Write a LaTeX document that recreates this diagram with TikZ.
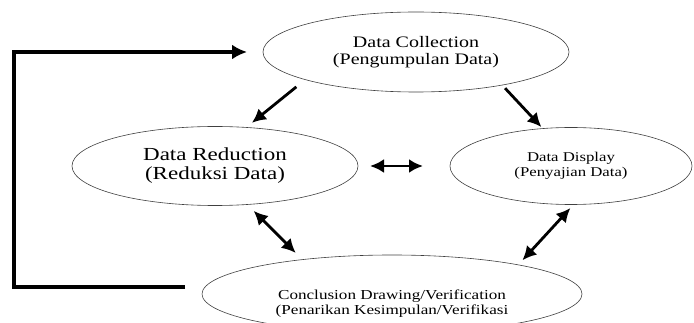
\documentclass[tikz,border=0pt]{standalone}
\usepackage{fontspec}
\setmainfont{Liberation Serif}[FakeStretch=1.25]
\usetikzlibrary{shapes.geometric,arrows.meta,positioning}

\begin{document}
\begin{tikzpicture}[x=1pt,y=-1pt,
  stage/.style={ellipse, draw=black!75, line width=0.6pt, inner sep=0pt, outer sep=0pt, align=center},
  arr/.style={line width=2.8pt, -{Latex[length=14pt,width=14pt]}},
  both/.style={line width=2.8pt, {Latex[length=14pt,width=14pt]}-{Latex[length=14pt,width=14pt]}},
  back/.style={line width=3.5pt, -{Latex[length=15pt,width=15pt]}}]

\useasboundingbox (0,0) rectangle (694,323);

\node[stage, minimum width=306pt, minimum height=80pt, font=\fontsize{16}{17}\selectfont] (coll) at (416,52) {Data Collection\\(Pengumpulan Data)};
\node[stage, minimum width=286pt, minimum height=79pt, font=\fontsize{18.4}{19}\selectfont] (red) at (215,166) {Data Reduction\\(Reduksi Data)};
\node[stage, minimum width=242pt, minimum height=77pt, font=\fontsize{13.4}{15}\selectfont] (disp) at (571,166) {Data Display\\(Penyajian Data)};
\node[stage, minimum width=380pt, minimum height=78pt] (concl) at (392,294) {};
\node[align=center, font=\fontsize{13.7}{15}\selectfont] (conclText) at ([yshift=-10pt]concl.center) {Conclusion Drawing/Verification\\(Penarikan Kesimpulan/Verifikasi};

\draw [arr, shorten <=11.5pt, shorten >=7.3pt] (coll.194)--(red.51);
\draw [arr, shorten <=4.3pt, shorten >=2pt] (coll.339)--(disp.127);
\draw [both, shorten <=12pt, shorten >=27pt] (red.east)--(disp.west);
\draw [both, shorten <=9pt, shorten >=9.4pt] (red.310)--(concl.159);
\draw [both, shorten <=4.9pt, shorten >=6.2pt] (disp.274)--(concl.13);

\draw [back] ([xshift=-17pt,yshift=7pt]concl.west) -| ([xshift=-249pt]coll.west) -- ([xshift=-16pt]coll.west);

\end{tikzpicture}
\end{document}
